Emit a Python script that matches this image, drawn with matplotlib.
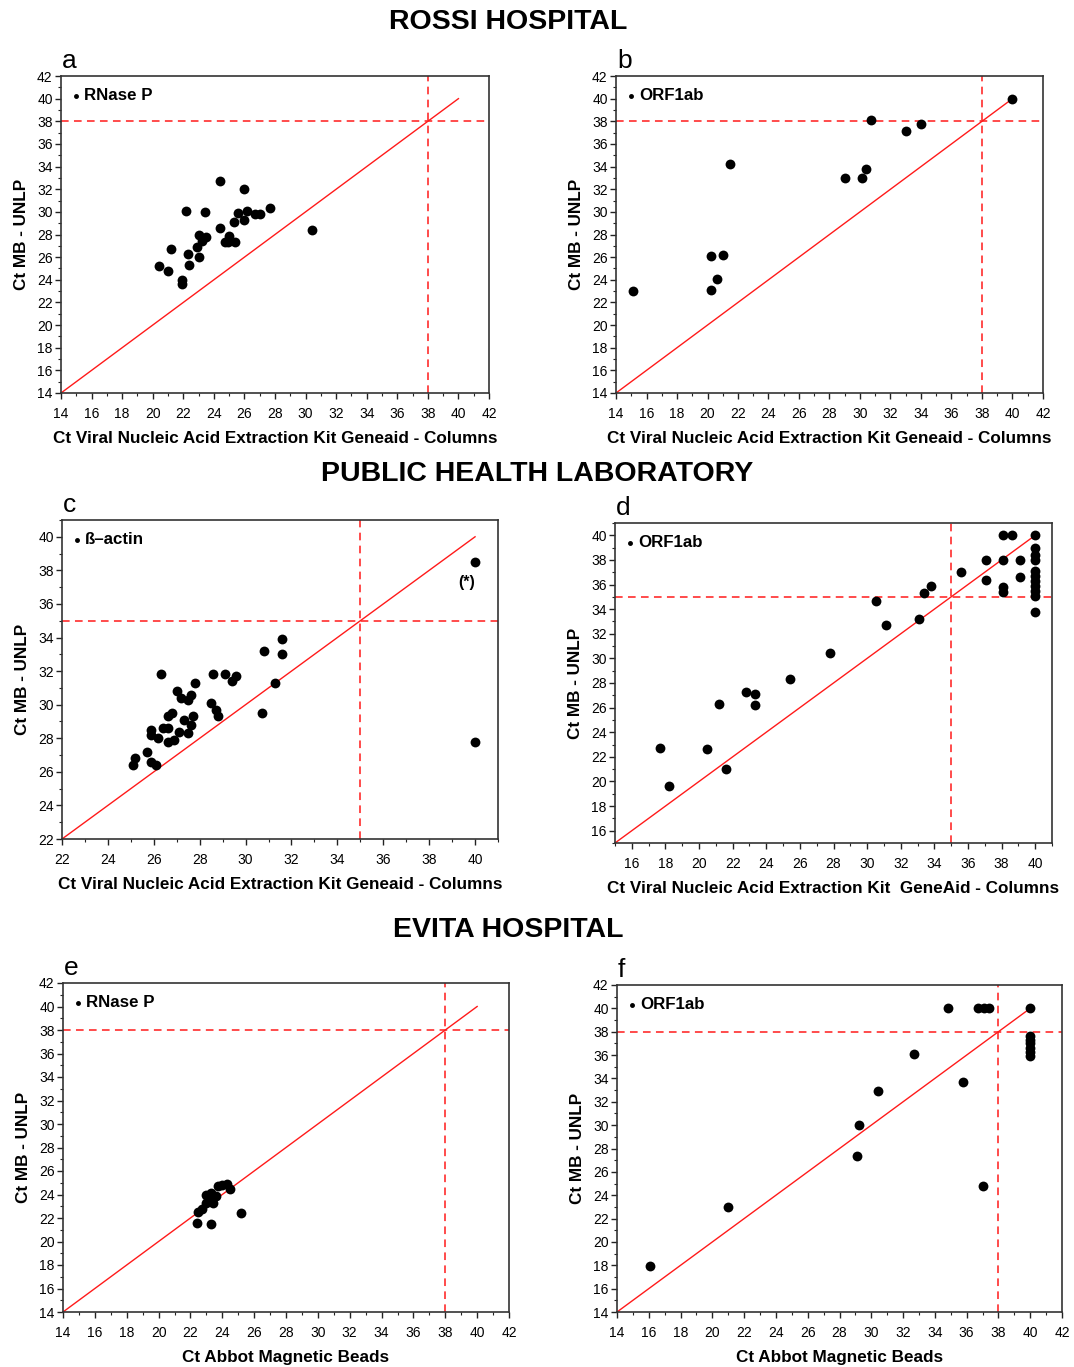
import matplotlib
matplotlib.use("Agg")
import matplotlib.pyplot as plt
from matplotlib.ticker import MultipleLocator

plt.rcParams['font.family'] = ['Liberation Sans', 'DejaVu Sans']

# ---------------- data ----------------
a_x = [24.4, 26.0, 22.2, 23.4, 27.7, 25.6, 26.2, 26.7, 27.0, 25.3, 26.0, 24.4, 30.4, 23.0, 23.5,
       23.2, 25.0, 24.7, 25.4, 24.9, 22.9, 21.2, 22.3, 23.0, 22.4, 20.4, 21.0, 21.9, 21.9]
a_y = [32.7, 32.0, 30.1, 30.0, 30.3, 29.9, 30.1, 29.8, 29.8, 29.1, 29.3, 28.6, 28.4, 28.0, 27.8,
       27.4, 27.9, 27.3, 27.3, 27.3, 26.9, 26.7, 26.3, 26.0, 25.3, 25.2, 24.8, 24.0, 23.6]

b_x = [15.1, 20.2, 21.0, 20.6, 20.2, 21.5, 29.0, 30.1, 30.4, 30.7, 33.0, 34.0, 40.0]
b_y = [23.0, 26.1, 26.2, 24.1, 23.1, 34.2, 33.0, 33.0, 33.8, 38.1, 37.1, 37.8, 40.0]

c_x = [40.0, 40.0, 26.3, 27.8, 28.6, 29.1, 29.6, 29.4, 30.8, 31.6, 31.6, 31.3, 30.7, 28.5, 28.7,
       28.8, 27.0, 27.2, 27.6, 27.5, 26.8, 26.6, 27.7, 27.3, 27.6, 25.9, 26.4, 26.6, 25.9, 27.1,
       27.5, 26.2, 26.6, 26.9, 25.7, 25.2, 25.1, 25.9, 26.1]
c_y = [38.5, 27.8, 31.8, 31.3, 31.8, 31.8, 31.7, 31.4, 33.2, 33.9, 33.0, 31.3, 29.5, 30.1, 29.7,
       29.3, 30.8, 30.4, 30.6, 30.3, 29.5, 29.3, 29.3, 29.1, 28.8, 28.5, 28.6, 28.6, 28.2, 28.4,
       28.3, 28.0, 27.8, 27.9, 27.2, 26.8, 26.4, 26.6, 26.4]

d_x = [17.7, 18.2, 20.5, 21.6, 21.2, 22.8, 23.3, 23.3, 25.4, 27.8, 30.5, 31.1, 33.1, 33.4, 33.8,
       35.6, 37.1, 37.1, 38.1, 38.6, 38.1, 38.1, 38.1, 39.1, 39.1,
       40, 40, 40, 40, 40, 40, 40, 40, 40, 40, 40]
d_y = [22.7, 19.6, 22.6, 21.0, 26.3, 27.3, 27.1, 26.2, 28.3, 30.4, 34.7, 32.7, 33.2, 35.3, 35.9,
       37.0, 38.0, 36.4, 40.0, 40.0, 38.0, 35.8, 35.4, 38.0, 36.6,
       40.0, 39.0, 38.4, 38.0, 37.1, 36.7, 36.3, 35.9, 35.5, 35.1, 33.8]

e_x = [22.5, 22.4, 23.3, 25.2, 23.0, 23.3, 23.0, 23.4, 23.7, 24.3, 24.5, 24.0, 23.2, 23.6, 22.7]
e_y = [22.5, 21.6, 21.5, 22.4, 24.0, 24.1, 23.3, 23.3, 24.7, 24.9, 24.5, 24.8, 23.7, 23.9, 22.8]

f_x = [16.1, 21.0, 29.1, 29.2, 30.4, 32.7, 35.8, 37.0, 34.8, 36.7, 37.1, 37.4,
       40, 40, 40, 40, 40, 40, 40]
f_y = [17.9, 23.0, 27.4, 30.0, 32.9, 36.1, 33.7, 24.8, 40, 40, 40, 40,
       40, 37.6, 37.3, 37.0, 36.6, 36.3, 35.9]

xlabel_geneaid = "Ct Viral Nucleic Acid Extraction Kit Geneaid - Columns"
xlabel_geneaid_d = "Ct Viral Nucleic Acid Extraction Kit  GeneAid - Columns"
xlabel_abbot = "Ct Abbot Magnetic Beads"
ylabel_all = "Ct MB - UNLP"

W, H = 1074, 1367
fig = plt.figure(figsize=(W / 100, H / 100), dpi=100)


def make_ax(l, r, t, b):
    return fig.add_axes([l / W, 1 - b / H, (r - l) / W, (b - t) / H])


def panel(box, xs, ys, lim_x, lim_y, ticks_x, ticks_y, cut, diag, legend, xlabel, letter):
    ax = make_ax(*box)
    ax.set_xlim(*lim_x)
    ax.set_ylim(*lim_y)
    ax.plot(diag, diag, color='#ff1a1a', lw=1.0, zorder=2)
    ax.axvline(cut, color='#ff1a1a', lw=1.1, ls=(0, (5, 3.5)), zorder=2)
    ax.axhline(cut, color='#ff1a1a', lw=1.1, ls=(0, (5, 3.5)), zorder=2)
    ax.scatter(xs, ys, s=50, color='black', zorder=3, label=legend, linewidths=0)
    ax.set_xticks(ticks_x)
    ax.set_yticks(ticks_y)
    ax.xaxis.set_minor_locator(MultipleLocator(1))
    ax.yaxis.set_minor_locator(MultipleLocator(1))
    ax.tick_params(which='major', direction='out', length=4, width=1, labelsize=10,
                   colors='#222222', labelcolor='black')
    ax.tick_params(axis='x', which='major', pad=6)
    ax.tick_params(axis='y', which='major', pad=2)
    ax.tick_params(which='minor', direction='out', length=2.5, width=0.8, colors='#222222')
    for s in ax.spines.values():
        s.set_linewidth(1.2)
        s.set_color('#333333')
    ax.set_xlabel(xlabel, fontsize=12.3, fontweight='bold', labelpad=7)
    ax.set_ylabel(ylabel_all, fontsize=12.3, fontweight='bold', labelpad=6)
    ax.legend(loc='upper left', bbox_to_anchor=(-0.007, 0.997), frameon=False,
              markerscale=0.5, handletextpad=0.1, borderaxespad=0.35, handlelength=0.8,
              borderpad=0.3, prop={'weight': 'bold', 'size': 12.2})
    ax.text(0.002, 1.01, letter, transform=ax.transAxes, fontsize=19, ha='left', va='bottom')
    return ax


ev = list(range(14, 43, 2))

ax_a = panel((61, 489, 76, 393), a_x, a_y, (14, 42), (14, 42), ev, ev, 38, [14, 40],
             'RNase P', xlabel_geneaid, 'a')
ax_b = panel((616, 1043, 76, 393), b_x, b_y, (14, 42), (14, 42), ev, ev, 38, [14, 40],
             'ORF1ab', xlabel_geneaid, 'b')
ax_c = panel((62, 498, 520, 839), c_x, c_y, (22, 41), (22, 41), list(range(22, 41, 2)),
             list(range(22, 41, 2)), 35, [22, 40], 'ß–actin', xlabel_geneaid, 'c')
ax_c.text(39.65, 37.3, '(*)', fontsize=11.5, fontweight='bold', ha='center', va='center')
ax_d = panel((615, 1052, 523, 843), d_x, d_y, (15, 41), (15, 41), list(range(16, 41, 2)),
             list(range(16, 41, 2)), 35, [15, 40], 'ORF1ab', xlabel_geneaid_d, 'd')
ax_e = panel((63, 509, 983, 1312), e_x, e_y, (14, 42), (14, 42), ev, ev, 38, [14, 40],
             'RNase P', xlabel_abbot, 'e')
ax_f = panel((617, 1062, 985, 1312), f_x, f_y, (14, 42), (14, 42), ev, ev, 38, [14, 40],
             'ORF1ab', xlabel_abbot, 'f')

fig.text(508 / W, 1 - 22 / H, 'ROSSI HOSPITAL', fontsize=20.5, fontweight='bold',
         ha='center', va='center')
fig.text(537 / W, 1 - 474 / H, 'PUBLIC HEALTH LABORATORY', fontsize=20.5, fontweight='bold',
         ha='center', va='center')
fig.text(508 / W, 1 - 930 / H, 'EVITA HOSPITAL', fontsize=20.5, fontweight='bold',
         ha='center', va='center')

fig.savefig('out.png', dpi=100, facecolor='white')
